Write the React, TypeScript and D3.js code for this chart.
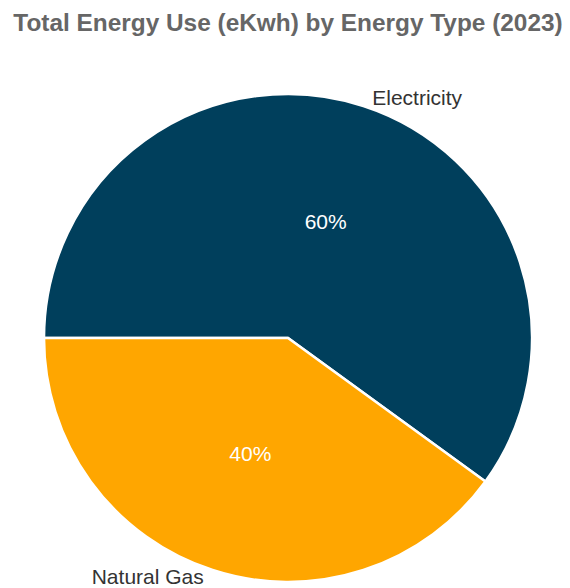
import React from 'react';
import * as d3 from 'd3';

const categories = ['Electricity', 'Natural Gas'];
const shares = [60, 40];
const colors = ['#003f5c', '#ffa600'];
const title = 'Total Energy Use (eKwh) by Energy Type (2023)';

const width = 570;
const height = 588;
const cx = 288;
const cy = 338;
const radius = 244;

const App: React.FC = () => {
  const data = categories.map((name, i) => ({ name, value: shares[i], color: colors[i] }));

  // start at 9 o'clock, go clockwise
  const pie = d3.pie<{ name: string; value: number; color: string }>()
    .value(d => d.value)
    .sort(null)
    .startAngle(-Math.PI / 2)
    .endAngle((3 * Math.PI) / 2);

  const arcs = pie(data);
  const arc = d3.arc<d3.PieArcDatum<any>>().innerRadius(0).outerRadius(radius);
  const labelArc = d3.arc<d3.PieArcDatum<any>>().innerRadius(radius * 0.5).outerRadius(radius * 0.5);
  const total = d3.sum(shares);

  return (
    <svg width={width} height={height} style={{ position: 'fixed', left: 0, top: 0 }}
      fontFamily="'Liberation Sans', Arial, sans-serif">
      <rect width={width} height={height} fill="#fff" />
      <text x={288} y={30.5} textAnchor="middle" fontSize={24.4} fontWeight="bold" fill="#666">
        {title}
      </text>
      <g transform={`translate(${cx},${cy})`}>
        {arcs.map((a, i) => (
          <path key={i} d={arc(a) || ''} fill={a.data.color} stroke="#fff" strokeWidth={2.5} />
        ))}
        {arcs.map((a, i) => {
          const [x, y] = labelArc.centroid(a);
          return (
            <text key={'p' + i} x={x} y={y} dy="0.35em" textAnchor="middle" fontSize={21} fill="#fff">
              {d3.format('.0%')(a.data.value / total)}
            </text>
          );
        })}
        {arcs.map((a, i) => {
          const mid = (a.startAngle + a.endAngle) / 2;
          const r = radius + 6;
          const x = Math.sin(mid) * r;
          const y = -Math.cos(mid) * r;
          const right = Math.sin(mid) > 0;
          return (
            <text key={'l' + i} x={right ? x + 7 : x - 7} y={y < 0 ? y - 3 : y + 1} dy="0.35em"
              textAnchor={right ? 'start' : 'end'} fontSize={21} fill="#333">
              {a.data.name}
            </text>
          );
        })}
      </g>
    </svg>
  );
};

export default App;
